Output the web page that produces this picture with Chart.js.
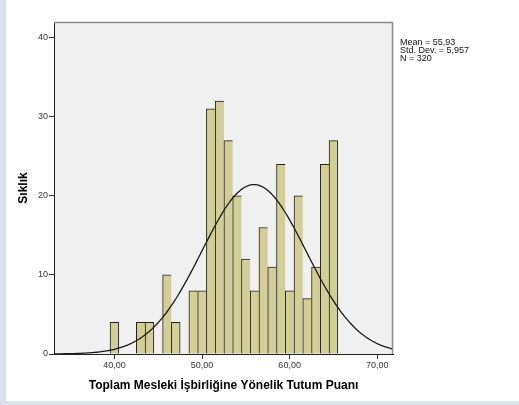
<!DOCTYPE html>
<html>
<head>
<meta charset="utf-8">
<script src="https://cdn.jsdelivr.net/npm/chart.js@4/dist/chart.umd.min.js"></script>
<style>
  html, body { margin: 0; padding: 0; width: 519px; height: 405px; overflow: hidden; background: #dde0ef; }
  #panel { position: absolute; left: 6px; top: 0; width: 513px; height: 401px; background: #ffffff; }
  canvas { display: block; }
</style>
</head>
<body>
<div id="panel"><canvas id="hist" width="513" height="401"></canvas></div>
<script>
// Histogram of total attitude scores (one-point bins)
const scoreBins   = [40, 43, 44, 46, 47, 49, 50, 51, 52, 53, 54, 55, 56, 57, 58, 59, 60, 61, 62, 63, 64, 65];
const frequencies = [ 4,  4,  4, 10,  4,  8,  8, 31, 32, 27, 20, 12,  8, 16, 11, 24,  8, 20,  7, 11, 24, 27];

const xTickValues = [40, 50, 60, 70];
const xTickLabels = ['40,00', '50,00', '60,00', '70,00'];
const yTickValues = [0, 10, 20, 30, 40];

// Summary statistics shown beside the plot; the fitted normal curve uses them
const meanScore = 55.93;
const stdDevScore = 5.957;
const sampleSize = 320;
const statLines = ['Mean = 55,93', 'Std. Dev. = 5,957', 'N = 320'];

const xAxisTitle = 'Toplam Mesleki İşbirliğine Yönelik Tutum Puanı';
const yAxisTitle = 'Sıklık';

const X_MIN = 33.1, X_MAX = 71.8, Y_MAX = 42;
const BIN_WIDTH = 1;

// Normal density scaled to counts per bin
function normalCount(x) {
  const z = (x - meanScore) / stdDevScore;
  return sampleSize * BIN_WIDTH / (stdDevScore * Math.sqrt(2 * Math.PI)) * Math.exp(-0.5 * z * z);
}
const curvePoints = [];
for (let i = 0; i <= 200; i++) {
  const x = X_MIN + (X_MAX - X_MIN) * i / 200;
  curvePoints.push({ x: x, y: normalCount(x) });
}

const barPoints = scoreBins.map((b, i) => ({ x: b, y: frequencies[i] }));
const binSet = new Set(scoreBins);

Chart.defaults.font.family = '"Liberation Sans", Arial, sans-serif';

const plotBackground = {
  id: 'plotBackground',
  beforeDraw(chart) {
    const { ctx, chartArea: a } = chart;
    ctx.save();
    ctx.fillStyle = '#f0f0f0';
    ctx.fillRect(a.left, a.top, a.right - a.left, a.bottom - a.top);
    ctx.restore();
  },
  afterDraw(chart) {
    const { ctx, chartArea: a } = chart;
    ctx.save();
    // upper and right frame lines
    ctx.strokeStyle = '#8a8a8a';
    ctx.lineWidth = 1.5;
    ctx.beginPath();
    ctx.moveTo(a.left, a.top + 0.5);
    ctx.lineTo(a.right - 0.5, a.top + 0.5);
    ctx.lineTo(a.right - 0.5, a.bottom);
    ctx.stroke();
    // statistics box text
    ctx.fillStyle = '#111';
    ctx.font = '9px "Liberation Sans", Arial, sans-serif';
    ctx.textBaseline = 'middle';
    ctx.textAlign = 'left';
    statLines.forEach((t, i) => ctx.fillText(t, a.right + 7, 43 + i * 8));
    ctx.restore();
  }
};

new Chart(document.getElementById('hist'), {
  type: 'bar',
  data: {
    datasets: [
      {
        type: 'line',
        data: curvePoints,
        borderColor: '#1a1a1a',
        borderWidth: 1.3,
        pointRadius: 0,
        tension: 0,
        fill: false,
        order: 0
      },
      {
        type: 'bar',
        data: barPoints,
        backgroundColor: '#d3ce97',
        borderColor: '#222222',
        borderWidth: (ctx) => {
          const v = ctx.raw ? ctx.raw.x : null;
          return { top: 1, left: 1, bottom: 0, right: binSet.has(v + 1) ? 0 : 1 };
        },
        borderSkipped: false,
        barPercentage: 1,
        categoryPercentage: 1,
        order: 1
      }
    ]
  },
  options: {
    responsive: false,
    animation: false,
    layout: { padding: { top: 22, right: 126, bottom: 0, left: 0 } },
    plugins: { legend: { display: false }, tooltip: { enabled: false } },
    scales: {
      x: {
        type: 'linear',
        offset: false,
        min: X_MIN,
        max: X_MAX,
        afterBuildTicks: (s) => { s.ticks = xTickValues.map(v => ({ value: v })); },
        afterFit: (s) => { s.height = 47; },
        ticks: {
          callback: (v, i) => xTickLabels[i],
          color: '#333',
          font: { size: 9 },
          padding: 1,
          maxRotation: 0,
          autoSkip: false
        },
        grid: { offset: false, drawOnChartArea: false, tickLength: 5, tickColor: '#333', tickWidth: 1 },
        border: { color: '#222', width: 1, z: 1 },
        title: {
          display: true,
          text: xAxisTitle,
          color: '#000',
          font: { size: 12, weight: 'bold' },
          padding: { top: 0, bottom: 8 }
        }
      },
      y: {
        min: 0,
        max: Y_MAX,
        afterBuildTicks: (s) => { s.ticks = yTickValues.map(v => ({ value: v })); },
        afterFit: (s) => { s.width = 48; },
        ticks: { color: '#333', font: { size: 9 }, padding: 1 },
        grid: { drawOnChartArea: false, tickLength: 5, tickColor: '#333', tickWidth: 1 },
        border: { color: '#222', width: 1, z: 1 },
        title: {
          display: true,
          text: yAxisTitle,
          color: '#000',
          font: { size: 12, weight: 'bold' },
          padding: { top: 10, bottom: 0 }
        }
      }
    }
  },
  plugins: [plotBackground]
});
</script>
</body>
</html>
